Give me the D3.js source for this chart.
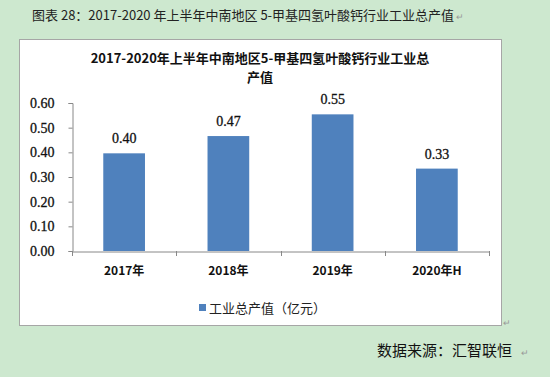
<!DOCTYPE html>
<html><head><meta charset="utf-8">
<script src="https://cdn.jsdelivr.net/npm/d3@7"></script>
<style>
html,body{margin:0;padding:0;background:#cde8cf;}
svg{display:block;}
</style></head>
<body>
<svg id="c" width="550" height="377"></svg>
<script>
const categories = ["2017年","2018年","2019年","2020年H"];
const values = [0.396, 0.466, 0.554, 0.334];
const yTicks = [0, 0.1, 0.2, 0.3, 0.4, 0.5, 0.6];
const seriesName = "工业总产值（亿元）";
const captionText = "图表  28：2017-2020 年上半年中南地区 5-甲基四氢叶酸钙行业工业总产值";
const titleLines = ["2017-2020年上半年中南地区5-甲基四氢叶酸钙行业工业总", "产值"];
const sourceText = "数据来源：汇智联恒";

const svg = d3.select("#c");
const cjk = "'Noto Sans CJK SC', 'Noto Sans', sans-serif";
const serif = "'Liberation Serif', 'DejaVu Serif', serif";

// caption
svg.append("text").attr("x", 32).attr("y", 20)
  .attr("font-family", cjk).attr("font-size", 13).attr("fill", "#222")
  .text(captionText);
svg.append("text").attr("x", 456).attr("y", 20)
  .attr("font-family", cjk).attr("font-size", 9).attr("fill", "#999").text("↵");

// chart box
svg.append("rect").attr("x", 19.5).attr("y", 39.5).attr("width", 482).attr("height", 286)
  .attr("fill", "#fff").attr("stroke", "#a6a6a6").attr("stroke-width", 1);
svg.append("text").attr("x", 503).attr("y", 326)
  .attr("font-family", cjk).attr("font-size", 9).attr("fill", "#999").text("↵");

// title
titleLines.forEach((t, i) => {
  svg.append("text").attr("x", 260).attr("y", 63 + i * 19).attr("text-anchor", "middle")
    .attr("font-family", cjk).attr("font-size", 13).attr("font-weight", "bold").attr("fill", "#111")
    .text(t);
});

const x = d3.scaleBand().domain(categories).range([72, 489]).paddingInner(0).paddingOuter(0);
const y = d3.scaleLinear().domain([0, 0.6]).range([251, 103]);

// y axis
const yAxis = svg.append("g").attr("transform", "translate(72.5,0)")
  .call(d3.axisLeft(y).tickValues(yTicks).tickFormat(d3.format(".2f")).tickSize(4).tickPadding(14));
yAxis.select(".domain").attr("stroke", "#888");
yAxis.selectAll(".tick line").attr("stroke", "#888");
yAxis.selectAll("text").attr("font-family", serif).attr("font-size", 14)
  .attr("fill", "#111").attr("stroke", "#111").attr("stroke-width", 0.3);

// x axis
const xAxis = svg.append("g").attr("transform", "translate(0,251.5)")
  .call(d3.axisBottom(x).tickSize(0).tickPadding(15));
xAxis.select(".domain").attr("stroke", "#888");
xAxis.selectAll("text").attr("font-family", cjk).attr("font-size", 12)
  .attr("font-weight", "bold").attr("fill", "#111");
// boundary ticks
const bounds = categories.map(c => x(c)).concat([x.range()[1]]);
svg.append("g").selectAll("line").data(bounds).join("line")
  .attr("x1", d => Math.round(d) + 0.5).attr("x2", d => Math.round(d) + 0.5)
  .attr("y1", 251).attr("y2", 256).attr("stroke", "#888");

// bars
const bw = x.bandwidth() * 0.4;
svg.append("g").selectAll("rect").data(values).join("rect")
  .attr("x", (d, i) => x(categories[i]) + (x.bandwidth() - bw) / 2)
  .attr("y", d => y(d)).attr("width", bw).attr("height", d => y(0) - y(d))
  .attr("fill", "#4f81bd");

// labels
svg.append("g").selectAll("text").data(values).join("text")
  .attr("x", (d, i) => x(categories[i]) + x.bandwidth() / 2)
  .attr("y", d => y(d) - 10).attr("text-anchor", "middle")
  .attr("font-family", serif).attr("font-size", 14)
  .attr("fill", "#111").attr("stroke", "#111").attr("stroke-width", 0.3)
  .text(d => d3.format(".2f")(d));

// legend
svg.append("rect").attr("x", 199).attr("y", 304).attr("width", 7).attr("height", 7).attr("fill", "#4f81bd");
svg.append("text").attr("x", 209).attr("y", 312.5)
  .attr("font-family", cjk).attr("font-size", 13).attr("fill", "#222").text(seriesName);

// source
svg.append("text").attr("x", 377).attr("y", 356)
  .attr("font-family", cjk).attr("font-size", 15).attr("fill", "#111").text(sourceText);
svg.append("text").attr("x", 521).attr("y", 356)
  .attr("font-family", cjk).attr("font-size", 9).attr("fill", "#999").text("↵");
</script>
</body></html>
